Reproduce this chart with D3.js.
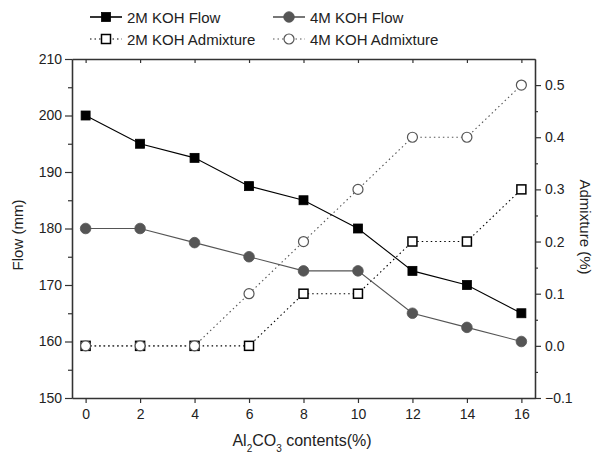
<!DOCTYPE html>
<html>
<head>
<meta charset="utf-8">
<script src="https://cdn.jsdelivr.net/npm/d3@7"></script>
<style>
  body { margin: 0; background: #fff; }
  text { font-family: "Liberation Sans", Arial, sans-serif; fill: #222; }
</style>
</head>
<body>
<div id="chart"></div>
<script>
// data
const contents = [0, 2, 4, 6, 8, 10, 12, 14, 16];
const flow2M = [200, 195, 192.5, 187.5, 185, 180, 172.5, 170, 165];
const flow4M = [180, 180, 177.5, 175, 172.5, 172.5, 165, 162.5, 160];
const admix2M = [0, 0, 0, 0, 0.1, 0.1, 0.2, 0.2, 0.3];
const admix4M = [0, 0, 0, 0.1, 0.2, 0.3, 0.4, 0.4, 0.5];
const flowTicks = [150, 160, 170, 180, 190, 200, 210];
const admixTicks = [-0.1, 0, 0.1, 0.2, 0.3, 0.4, 0.5];

let width = 595;
let height = 455;
let margin = { top: 59, right: 60, bottom: 57, left: 72 };

let x = d3.scaleLinear().domain([-0.5, 16.5]).range([margin.left, width - margin.right]);
let yFlow = d3.scaleLinear().domain([150, 210]).range([height - margin.bottom, margin.top]);
let yAdmix = d3.scaleLinear().domain([-0.1, 0.55]).range([height - margin.bottom, margin.top]);

let svg = d3.select("#chart").append("svg")
  .attr("width", width)
  .attr("height", height);

let axis_color = "#333";
let dark_gray = "#555";

function styleAxis(g) {
  g.select(".domain").attr("stroke", axis_color).attr("stroke-width", 1.3);
  g.selectAll(".tick line").attr("stroke", axis_color).attr("stroke-width", 1.2);
  g.selectAll(".tick text").style("font-size", "14px").attr("fill", "#222");
}

// minor ticks
let minorFlow = d3.range(155, 210, 10);
let minorAdmix = [-0.05, 0.05, 0.15, 0.25, 0.35, 0.45];

// left axis
svg.append("g")
  .attr("transform", `translate(${margin.left},0)`)
  .call(d3.axisLeft(yFlow).tickValues(flowTicks).tickFormat(d3.format("d")).tickSizeInner(7).tickSizeOuter(0).tickPadding(3))
  .call(styleAxis);
svg.append("g")
  .attr("transform", `translate(${margin.left},0)`)
  .call(d3.axisLeft(yFlow).tickValues(minorFlow).tickFormat("").tickSizeInner(4).tickSizeOuter(0))
  .call(styleAxis);

// right axis
svg.append("g")
  .attr("transform", `translate(${width - margin.right},0)`)
  .call(d3.axisRight(yAdmix).tickValues(admixTicks).tickFormat(d3.format(".1f")).tickSizeInner(6).tickSizeOuter(0).tickPadding(4))
  .call(styleAxis);
svg.append("g")
  .attr("transform", `translate(${width - margin.right},0)`)
  .call(d3.axisRight(yAdmix).tickValues(minorAdmix).tickFormat("").tickSizeInner(3).tickSizeOuter(0))
  .call(styleAxis);

// bottom axis
svg.append("g")
  .attr("transform", `translate(0,${height - margin.bottom})`)
  .call(d3.axisBottom(x).tickValues(contents).tickFormat(d3.format("d")).tickSizeInner(5).tickSizeOuter(0).tickPadding(6))
  .call(styleAxis);

// top axis (ticks inward)
svg.append("g")
  .attr("transform", `translate(0,${margin.top})`)
  .call(d3.axisTop(x).tickValues(contents).tickFormat("").tickSizeInner(-4).tickSizeOuter(0))
  .call(styleAxis);

// series
let series = [
  { name: "2M KOH Flow", values: flow2M, scale: yFlow, color: "#000", dash: null, shape: "square", filled: true },
  { name: "4M KOH Flow", values: flow4M, scale: yFlow, color: dark_gray, dash: null, shape: "circle", filled: true },
  { name: "2M KOH Admixture", values: admix2M, scale: yAdmix, color: "#000", dash: "1.5,3", shape: "square", filled: false },
  { name: "4M KOH Admixture", values: admix4M, scale: yAdmix, color: dark_gray, dash: "1.5,3", shape: "circle", filled: false },
];

function drawMarker(g, shape, filled, color, cx, cy) {
  if (shape === "square") {
    g.append("rect")
      .attr("x", cx - 4.5).attr("y", cy - 4.5)
      .attr("width", 9).attr("height", 9)
      .attr("fill", filled ? color : "#fff")
      .attr("stroke", color)
      .attr("stroke-width", filled ? 0.8 : 1.5);
  } else {
    g.append("circle")
      .attr("cx", cx).attr("cy", cy)
      .attr("r", filled ? 5.3 : 5)
      .attr("fill", filled ? color : "#fff")
      .attr("stroke", color)
      .attr("stroke-width", filled ? 0.8 : 1.2);
  }
}

// draw admixture first so flow sits on top
let drawOrder = [2, 3, 0, 1];
drawOrder.forEach(i => {
  let s = series[i];
  let line = d3.line()
    .x((d, j) => x(contents[j]))
    .y(d => s.scale(d));
  let g = svg.append("g");
  g.append("path")
    .datum(s.values)
    .attr("d", line)
    .attr("fill", "none")
    .attr("stroke", s.color)
    .attr("stroke-width", 1.1)
    .attr("stroke-dasharray", s.dash);
  s.values.forEach((v, j) => drawMarker(g, s.shape, s.filled, s.color, x(contents[j]), s.scale(v)));
});

// legend
let legendPos = [
  { x: 90, y: 17 },
  { x: 273, y: 17 },
  { x: 90, y: 39 },
  { x: 273, y: 39 },
];
series.forEach((s, i) => {
  let p = legendPos[i];
  let g = svg.append("g");
  g.append("line")
    .attr("x1", p.x).attr("x2", p.x + 32)
    .attr("y1", p.y).attr("y2", p.y)
    .attr("stroke", s.color)
    .attr("stroke-width", s.dash ? 1.1 : 1.6)
    .attr("stroke-dasharray", s.dash);
  drawMarker(g, s.shape, s.filled, s.color, p.x + 16, p.y);
  g.append("text")
    .attr("x", p.x + 37)
    .attr("y", p.y + 5.5)
    .style("font-size", "15px")
    .text(s.name);
});

// axis titles
svg.append("text")
  .attr("transform", `translate(23,235) rotate(-90)`)
  .attr("text-anchor", "middle")
  .style("font-size", "15px")
  .text("Flow (mm)");

svg.append("text")
  .attr("transform", `translate(580,227) rotate(90)`)
  .attr("text-anchor", "middle")
  .style("font-size", "15px")
  .text("Admixture (%)");

let xt = svg.append("text")
  .attr("x", 302)
  .attr("y", 446)
  .attr("text-anchor", "middle")
  .style("font-size", "16px");
xt.append("tspan").text("Al");
xt.append("tspan").attr("dy", 6).style("font-size", "10px").text("2");
xt.append("tspan").attr("dy", -6).text("CO");
xt.append("tspan").attr("dy", 6).style("font-size", "10px").text("3");
xt.append("tspan").attr("dy", -6).text(" contents(%)");
</script>
</body>
</html>
